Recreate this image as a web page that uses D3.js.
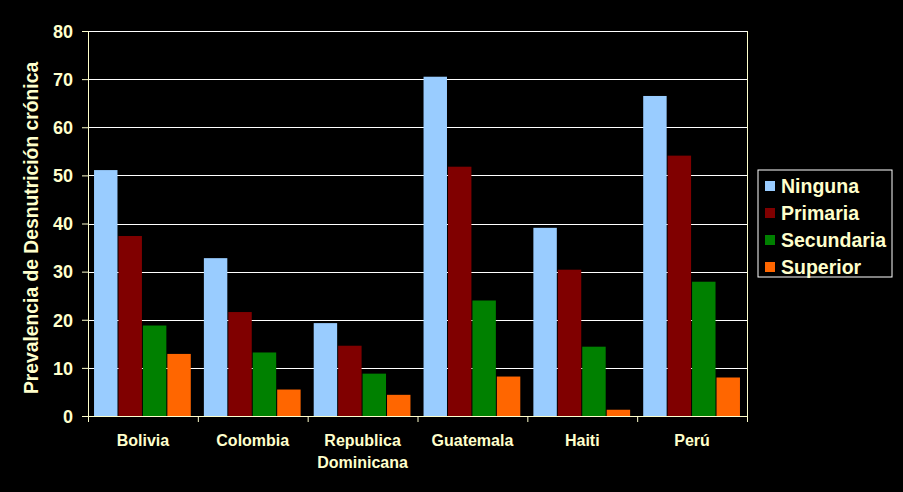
<!DOCTYPE html>
<html lang="es">
<head>
    <meta charset="UTF-8">
    <title>Prevalencia de Desnutrición crónica</title>
    <script src="https://d3js.org/d3.v7.min.js"></script>
    <style>
        body { margin: 0; background: #000; }
        text { font-family: Arial, "Liberation Sans", sans-serif; font-weight: bold; fill: #ffffcc; }
        .grid line { stroke: #ffffff; stroke-width: 1px; }
        .axis path, .axis line { stroke: #ffffcc; }
    </style>
</head>
<body>
<script>
const countries = ["Bolivia", "Colombia", "Republica Dominicana", "Guatemala", "Haiti", "Perú"];
const levels = ["Ninguna", "Primaria", "Secundaria", "Superior"];
const ninguna    = [51.1, 32.8, 19.3, 70.5, 39.1, 66.5];
const primaria   = [37.4, 21.6, 14.6, 51.8, 30.4, 54.1];
const secundaria = [18.8, 13.2, 8.8, 24.0, 14.4, 27.9];
const superior   = [12.9, 5.5, 4.4, 8.2, 1.3, 8.0];
const yTicks = [0, 10, 20, 30, 40, 50, 60, 70, 80];
const colors = ["#99ccff", "#800000", "#008000", "#ff6600"];

const series = [ninguna, primaria, secundaria, superior];
const data = countries.map((c, i) => ({ country: c, values: series.map(s => s[i]) }));

const width = 903, height = 492;
const margin = { top: 31, right: 156, bottom: 76, left: 88 };
const w = width - margin.left - margin.right;
const h = height - margin.top - margin.bottom;

const svg = d3.select("body").append("svg")
    .attr("width", width)
    .attr("height", height);

const g = svg.append("g").attr("transform", `translate(${margin.left},${margin.top})`);

const x0 = d3.scaleBand().domain(countries).range([0, w]).paddingInner(0.11).paddingOuter(0.055);
const x1 = d3.scaleBand().domain(levels).range([0, x0.bandwidth()]);
const y = d3.scaleLinear().domain([0, 80]).range([h, 0]);

// gridlines
g.append("g")
    .attr("class", "grid")
    .selectAll("line")
    .data(yTicks.filter(t => t > 0))
    .enter().append("line")
    .attr("x1", 0).attr("x2", w)
    .attr("y1", d => Math.round(y(d)) + 0.5)
    .attr("y2", d => Math.round(y(d)) + 0.5);

// right border
g.append("line")
    .attr("x1", w + 0.5).attr("x2", w + 0.5)
    .attr("y1", 0).attr("y2", h + 6)
    .attr("stroke", "#ffffcc");

// bars
const groups = g.append("g")
    .selectAll("g")
    .data(data)
    .enter().append("g")
    .attr("transform", d => `translate(${x0(d.country)},0)`);

groups.selectAll("rect")
    .data(d => d.values.map((v, j) => ({ level: levels[j], value: v, color: colors[j] })))
    .enter().append("rect")
    .attr("x", d => x1(d.level))
    .attr("width", x1.bandwidth() - 1)
    .attr("y", d => y(d.value))
    .attr("height", d => h - y(d.value))
    .attr("fill", d => d.color);

// y axis
const yAxis = g.append("g")
    .attr("class", "axis")
    .call(d3.axisLeft(y).tickValues(yTicks).tickSize(6).tickPadding(9));
yAxis.selectAll("text").style("font-size", "18px").attr("dy", "0.35em");

// x axis with boundary ticks
const xAxisG = g.append("g")
    .attr("class", "axis")
    .attr("transform", `translate(0,${h})`);
xAxisG.append("line")
    .attr("x1", 0).attr("x2", w)
    .attr("y1", 0.5).attr("y2", 0.5);
const step = w / countries.length;
xAxisG.selectAll(".btick")
    .data(d3.range(countries.length + 1))
    .enter().append("line")
    .attr("class", "btick")
    .attr("x1", i => i * step + 0.5).attr("x2", i => i * step + 0.5)
    .attr("y1", 0).attr("y2", 6);

const labels = xAxisG.selectAll(".xlabel")
    .data(countries)
    .enter().append("text")
    .attr("class", "xlabel")
    .attr("text-anchor", "middle")
    .style("font-size", "16px")
    .attr("transform", d => `translate(${x0(d) + x0.bandwidth() / 2},30)`);
labels.each(function (d) {
    const words = d === "Republica Dominicana" ? ["Republica", "Dominicana"] : [d];
    d3.select(this).selectAll("tspan")
        .data(words)
        .enter().append("tspan")
        .attr("x", 0)
        .attr("dy", (wd, i) => i === 0 ? 0 : "1.35em")
        .text(wd => wd);
});

// y axis title
svg.append("text")
    .attr("transform", "translate(38,228) rotate(-90)")
    .attr("text-anchor", "middle")
    .style("font-size", "19.3px")
    .text("Prevalencia de Desnutrición crónica");

// legend
const legend = svg.append("g").attr("transform", "translate(758,170)");
legend.append("rect")
    .attr("width", 134).attr("height", 107)
    .attr("fill", "#000")
    .attr("stroke", "#ffffff");
const items = legend.selectAll(".item")
    .data(levels)
    .enter().append("g")
    .attr("transform", (d, i) => `translate(7,${16 + i * 27})`);
items.append("rect")
    .attr("x", 0).attr("y", -5)
    .attr("width", 10).attr("height", 10)
    .attr("fill", (d, i) => colors[i]);
items.append("text")
    .attr("x", 16)
    .attr("dy", "0.36em")
    .style("font-size", "19.5px")
    .text(d => d);
</script>
</body>
</html>
